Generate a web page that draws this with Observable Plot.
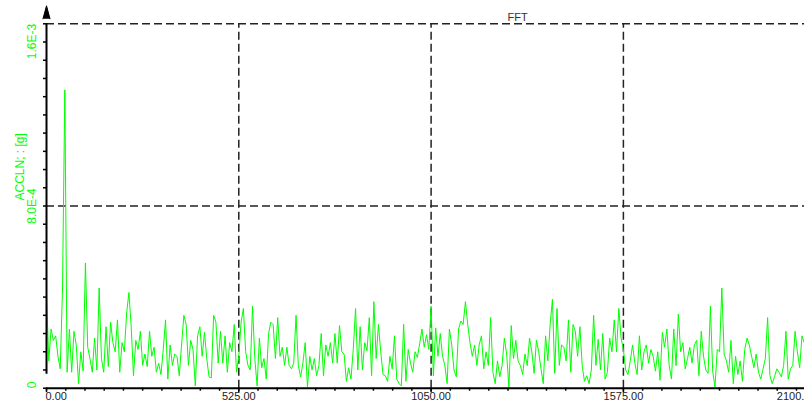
<!DOCTYPE html>
<html>
<head>
<meta charset="utf-8">
<script src="https://cdn.jsdelivr.net/npm/d3@7"></script>
<script src="https://cdn.jsdelivr.net/npm/@observablehq/plot@0.6"></script>
<style>
  html, body { margin: 0; padding: 0; background: #fff; overflow: hidden; }
  #chart svg { display: block; }
</style>
</head>
<body>
<div id="chart"></div>
<script>
// FFT amplitude spectrum of the ACCLN channel, one value per 6.25 Hz bin,
// in units of 1e-4 g.
const binWidthHz = 6.25;
const accelE4 = [
  4.1,1.2,2.6,2.1,2.3,1.4,0.85,4.4,13.1,0.7,
  2.6,0.7,2.5,1.9,0.2,1.6,0.75,5.5,1.8,1.3,
  0.7,2.2,0.8,4.4,1.3,0.7,2.7,0.95,2.9,2.0,
  1.6,3.0,0.7,2.0,1.6,3.3,4.2,2.7,0.55,2.1,
  1.7,2.5,1.0,1.5,0.95,2.5,1.4,1.8,0.7,1.1,
  0.6,1.7,3.0,0.4,1.9,1.0,1.5,1.4,0.55,1.9,
  3.2,2.8,1.0,2.1,1.7,0.1,
  2.3,2.7,1.4,2.45,1.3,0.5,0.45,3.2,2.9,1.1,
  2.5,1.1,2.3,0.7,2.0,1.6,2.8,0.7,1.4,2.9,
  3.5,1.6,1.0,0.8,3.6,1.3,0.1,2.2,0.9,1.3,
  0.4,2.4,2.9,2.8,1.3,3.1,1.4,1.8,1.0,1.8,
  1.0,0.85,1.1,3.2,1.0,0.5,1.1,2.0,0.05,1.4,
  0.8,1.3,0.55,1.0,2.4,0.55,1.9,1.4,2.0,1.1,
  2.4,1.1,2.75,1.6,1.5,0.3,0.9,
  0.4,1.7,3.5,0.8,2.7,0.8,2.0,1.65,3.1,0.55,
  3.8,1.3,2.8,1.6,0.6,0.55,0.3,1.4,0.85,2.3,
  0.4,0.2,0.1,2.8,0.3,1.7,1.1,0.7,1.6,1.35,
  1.95,2.6,1.8,2.35,1.7,3.6,0.55,2.65,1.4,2.4,
  1.4,1.0,0.2,2.6,1.9,0.8,0.5,2.6,2.95,2.8,
  3.8,2.8,2.0,1.4,1.9,1.0,1.9,2.3,0.85,1.6,
  1.0,3.1,0.7,0.2,1.2,0.5,
  1.0,2.2,1.5,0.05,2.75,1.3,2.1,1.2,0.99,0.6,
  1.5,0.99,2.2,1.6,0.65,2.1,1.6,0.85,0.2,2.3,
  1.2,2.8,3.9,0.65,3.5,1.0,1.9,1.8,1.2,3.0,
  0.7,2.8,2.5,1.4,2.7,1.0,0.3,0.55,0.2,0.8,
  3.2,1.0,2.15,0.8,2.4,0.4,0.7,2.2,1.6,3.0,
  1.6,3.5,2.2,1.7,0.8,0.6,1.2,1.9,1.1,0.6,
  2.3,0.8,1.6,1.9,1.1,1.7,
  1.4,0.75,1.6,0.35,2.45,1.8,2.6,1.0,0.4,2.6,
  0.99,3.25,1.6,2.0,0.85,1.3,1.8,1.1,1.9,2.1,
  0.55,2.5,1.4,0.8,0.65,3.6,0.75,0.05,1.7,1.6,
  4.4,1.5,1.2,0.7,2.1,0.2,1.4,0.6,1.2,0.3,
  1.7,2.2,1.9,1.4,0.9,1.5,0.7,0.4,0.85,1.3,
  3.1,0.55,0.2,0.5,0.85,0.7,0.5,1.0,2.5,0.4,
  0.85,1.0,2.5,1.6,0.9,2.3,2.0
];

const xTicks = [0, 525, 1050, 1575, 2100];
const xTickLabels = ["0.00", "525.00", "1050.00", "1575.00", "2100.00"];
const yTicks = [0, 8e-4, 1.6e-3];
const yTickLabels = ["0", "8.0E-4", "1.6E-3"];
const title = "FFT";
const yLabel = "ACCLN; : [g]";

const spectrum = accelE4.map((v, i) => ({freq: i * binWidthHz, amp: v * 1e-4}));
const xLabelRows = xTicks.map((v, i) => ({v, label: xTickLabels[i]}));
const yLabelRows = yTicks.map((v, i) => ({v, label: yTickLabels[i]}));
const xMinor = d3.range(0, 2100 + 1e-9, 52.5);
const yMinor = d3.range(0, 1.6e-3 + 1e-12, 8e-5);

const W = 804, H = 407;
const ML = 46, MT = 23.3, MB = 19.3;
const pxPerMajor = 192.3;               // screen width of one 525 Hz division
const xMax = (W - ML) / pxPerMajor * 525; // frequency at the right edge

const green = "#00ff00";
const gridColor = "#222";
const font = "'Liberation Sans', Arial, sans-serif";
const dash = "8,4";

const yLabelMark = (row, anchor) => Plot.text([row], {
  x: 0, y: "v", text: "label", rotate: -90, textAnchor: anchor,
  dx: -14, fill: green, fontSize: 12
});

const chart = Plot.plot({
  width: W, height: H,
  marginLeft: ML, marginRight: 0, marginTop: MT, marginBottom: MB,
  style: {fontFamily: font, background: "#fff"},
  x: {domain: [0, xMax], axis: null},
  y: {domain: [0, 1.6e-3], axis: null},
  marks: [
    // dashed grid
    Plot.ruleY(yTicks.slice(1), {stroke: gridColor, strokeWidth: 1.5, strokeDasharray: dash}),
    Plot.ruleX(xTicks.slice(1, 4), {y1: 0, y2: 1.6e-3, stroke: gridColor, strokeWidth: 1.5, strokeDasharray: dash}),
    // spectrum
    Plot.lineY(spectrum, {x: "freq", y: "amp", stroke: green, strokeWidth: 1}),
    // x axis with minor and major ticks
    Plot.ruleY([0], {stroke: "#000", strokeWidth: 2}),
    Plot.ruleX(xMinor, {y1: 0, y2: 0, insetBottom: -3, stroke: "#000", strokeWidth: 1.5}),
    Plot.ruleX(xTicks, {y1: 0, y2: 0, insetBottom: -4.5, stroke: "#000", strokeWidth: 1.5}),
    // y axis with minor ticks and arrow head
    Plot.ruleY(yMinor, {x1: 0, x2: 0, insetLeft: -3, stroke: "#000", strokeWidth: 1.5}),
    Plot.ruleX([0], {y1: 0, y2: 1.6e-3, insetTop: -14, stroke: "#000", strokeWidth: 2}),
    Plot.vector([0], {x: d => d, frameAnchor: "top", anchor: "start", shape: "spike",
      length: 13, r: 3.5, dy: -5, fill: "#000", stroke: "#000", strokeWidth: 1}),
    // x tick labels
    Plot.text(xLabelRows.slice(0, 1), {x: "v", text: "label", frameAnchor: "bottom",
      textAnchor: "start", dx: -1, dy: 12, fill: "#222", fontSize: 11}),
    Plot.text(xLabelRows.slice(1, 4), {x: "v", text: "label", frameAnchor: "bottom",
      dy: 12, fill: "#222", fontSize: 11}),
    Plot.text(xLabelRows.slice(4), {x: "v", text: "label", frameAnchor: "bottom",
      dx: -19, dy: 12, fill: "#222", fontSize: 11}),
    // y tick labels
    yLabelMark(yLabelRows[0], "start"),
    yLabelMark(yLabelRows[1], "middle"),
    yLabelMark(yLabelRows[2], "end"),
    // y axis title
    Plot.text([yLabel], {frameAnchor: "left", rotate: -90, dx: -26, dy: -5.5,
      fill: green, fontSize: 12}),
    // chart title
    Plot.text([title], {frameAnchor: "top-left", dx: 461, dy: -10.3,
      fill: "#333", fontSize: 11})
  ]
});

document.getElementById("chart").appendChild(chart);
</script>
</body>
</html>
